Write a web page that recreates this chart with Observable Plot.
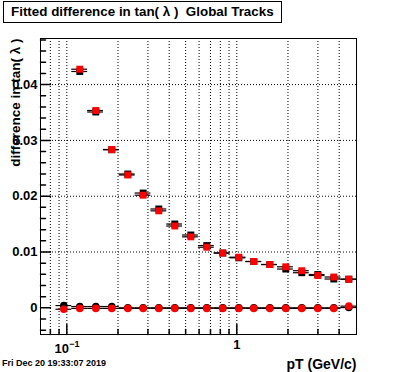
<!DOCTYPE html>
<html><head><meta charset="utf-8">
<script src="https://cdn.jsdelivr.net/npm/d3@7"></script>
<script src="https://cdn.jsdelivr.net/npm/@observablehq/plot@0.6"></script>
<style>
body{margin:0;background:#fff;}
#wrap{position:relative;width:396px;height:372px;font-family:"Liberation Sans",Arial,sans-serif;}
#title{position:absolute;left:3px;top:1px;width:279px;height:22px;border:1px solid #000;box-sizing:border-box;font-weight:bold;font-size:13.4px;line-height:20px;padding-left:7px;white-space:pre;background:#fff;}
#date{position:absolute;left:2px;top:358px;font-size:9px;font-weight:bold;line-height:11px;white-space:pre;}
</style></head>
<body><div id="wrap"><div id="chart"></div><div id="title">Fitted difference in tan( λ )  Global Tracks</div><div id="date">Fri Dec 20 19:33:07 2019</div></div>
<script>
// bin edges (pT, GeV/c) and centers
const binLow  = [0.0863,0.1069,0.1326,0.1642,0.2033,0.2522,0.3124,0.3870,0.4794,0.5942,0.7364,0.9120,1.131,1.401,1.735,2.152,2.667,3.303,4.098];
const binHigh = [0.1069,0.1326,0.1642,0.2033,0.2522,0.3124,0.3870,0.4794,0.5942,0.7364,0.9120,1.131,1.401,1.735,2.152,2.667,3.303,4.098,5.073];
const binCenter = [0.0960,0.1192,0.1481,0.1839,0.2285,0.2813,0.3476,0.4317,0.5363,0.6661,0.8270,1.0275,1.259,1.564,1.942,2.412,2.996,3.72,4.56];
// square markers (black and red series)
const squareBlack = [null,0.04235,0.03509,0.02832,0.02398,0.02057,0.01771,0.01502,0.01305,0.01116,0.00982,0.00896,0.00830,0.00776,0.00695,0.00629,0.00597,0.00516,0.00513];
const squareRed   = [null,0.04276,0.03536,0.02837,0.02380,0.02018,0.01738,0.01466,0.01272,0.01086,0.00982,0.00907,0.00830,0.00776,0.00735,0.00665,0.00579,0.00552,0.00513];
// circle markers (black and red series)
const circleBlack = [0.0004,0.00023,0.00023,0.00023,0,0,0,0,0,0,0,0,0,0,0,0,0,0,0.00005];
const circleRed   = [-0.00025,-0.0001,-0.0001,-0.0001,-0.0001,-0.0001,-0.0001,-0.0001,-0.0001,-0.0001,-0.0001,-0.0001,-0.0001,-0.0001,-0.0001,-0.0001,-0.0001,-0.0001,0.0003];
// axes
const yTicks = [0,0.01,0.02,0.03,0.04];
const yMinorTicks = [-0.004,-0.002,0.002,0.004,0.006,0.008,0.012,0.014,0.016,0.018,0.022,0.024,0.026,0.028,0.032,0.034,0.036,0.038,0.042,0.044,0.046,0.048];
const xMajorTicks = [0.1,1];
const xMinorTicks = [0.08,0.09,0.2,0.3,0.4,0.5,0.6,0.7,0.8,0.9,2,3,4];
const xGrid = [0.08,0.09,0.1,0.2,0.3,0.4,0.5,0.6,0.7,0.8,0.9,1,2,3,4];
const xTickBase = ["10"];
const xTickExp = ["\u22121"];
const xTickPlain = ["1"];

const rows = binCenter.map((c,i)=>({x:c, lo:binLow[i], hi:binHigh[i], sb:squareBlack[i], sr:squareRed[i], cb:circleBlack[i], cr:circleRed[i]}));
const sqRows = rows.filter(d=>d.sb!=null);

const tickShape = {draw(ctx, l){ ctx.moveTo(0,0); ctx.lineTo(0,-l); }};
const dash = "1,2";

const chart = Plot.plot({
  width:396, height:372,
  marginLeft:40, marginRight:40, marginTop:38, marginBottom:38,
  style:{fontFamily:"Liberation Sans, Arial, sans-serif", fontWeight:"bold", fontSize:"13px", background:"#fff"},
  x:{type:"log", domain:[0.07,5.06], axis:null},
  y:{domain:[-0.00478,0.04826]},
  marks:[
    Plot.ruleY(yTicks.filter(d=>d!==0), {y:d=>d, stroke:"#000", strokeDasharray:dash}),
    Plot.ruleX(xGrid, {x:d=>d, stroke:"#000", strokeDasharray:dash}),
    // black squares
    Plot.ruleY(sqRows, {y:"sb", x1:"lo", x2:"hi", stroke:"#000", strokeWidth:1.2}),
    Plot.dot(sqRows, {x:"x", y:"sb", symbol:"square", r:3.9, fill:"#000", stroke:"none"}),
    // red squares
    Plot.ruleY(sqRows, {y:"sr", x1:"lo", x2:"hi", stroke:"#000", strokeWidth:1.2}),
    Plot.dot(sqRows, {x:"x", y:"sr", symbol:"square", r:3.9, fill:"#ff0000", stroke:"none"}),
    // black circles
    Plot.ruleY(rows, {y:"cb", x1:"lo", x2:"hi", stroke:"#000", strokeWidth:1.2}),
    Plot.dot(rows, {x:"x", y:"cb", r:3.8, fill:"#000", stroke:"none"}),
    // red circles
    Plot.ruleY(rows, {y:"cr", x1:"lo", x2:"hi", stroke:"#000", strokeWidth:1.2}),
    Plot.dot(rows, {x:"x", y:"cr", r:3.8, fill:"#ff0000", stroke:"none"}),
    Plot.frame({stroke:"#000"}),
    // ticks inward
    Plot.vector(yTicks, {y:d=>d, frameAnchor:"left", rotate:90, length:10, anchor:"start", shape:tickShape, stroke:"#000"}),
    Plot.vector(yMinorTicks, {y:d=>d, frameAnchor:"left", rotate:90, length:5, anchor:"start", shape:tickShape, stroke:"#000"}),
    Plot.vector(xMajorTicks, {x:d=>d, frameAnchor:"bottom", rotate:0, length:10, anchor:"start", shape:tickShape, stroke:"#000"}),
    Plot.vector(xMinorTicks, {x:d=>d, frameAnchor:"bottom", rotate:0, length:5, anchor:"start", shape:tickShape, stroke:"#000"}),
    Plot.axisY(yTicks, {tickSize:0, tickPadding:3, label:null, fontSize:13, fontWeight:"bold", tickFormat:d=>d===0?"0":String(d)}),
    Plot.text(xMajorTicks.slice(0,1), {x:d=>d, text:(d,i)=>xTickBase[i], frameAnchor:"bottom", textAnchor:"middle", lineAnchor:"middle", dy:14.5, dx:-5, fontSize:13, fontWeight:"bold", fill:"#000"}),
    Plot.text(xMajorTicks.slice(0,1), {x:d=>d, text:(d,i)=>xTickExp[i], frameAnchor:"bottom", textAnchor:"middle", lineAnchor:"middle", dy:10, dx:7.5, fontSize:9, fontWeight:"bold", fill:"#000"}),
    Plot.text(xMajorTicks.slice(1), {x:d=>d, text:(d,i)=>xTickPlain[i], frameAnchor:"bottom", textAnchor:"middle", lineAnchor:"middle", dy:10.5, fontSize:13, fontWeight:"bold", fill:"#000"}),
    Plot.text(["pT (GeV/c)"], {text:d=>d, frameAnchor:"bottom-right", textAnchor:"end", lineAnchor:"middle", dy:30, fontSize:14, fontWeight:"bold", fill:"#000"}),
    Plot.text(["difference in tan( \u03bb )"], {text:d=>d, frameAnchor:"top-left", rotate:-90, textAnchor:"end", lineAnchor:"middle", dx:-25, dy:0, fontSize:13.5, fontWeight:"bold", fill:"#000"})
  ]
});
document.getElementById("chart").appendChild(chart);
</script>
</body></html>
